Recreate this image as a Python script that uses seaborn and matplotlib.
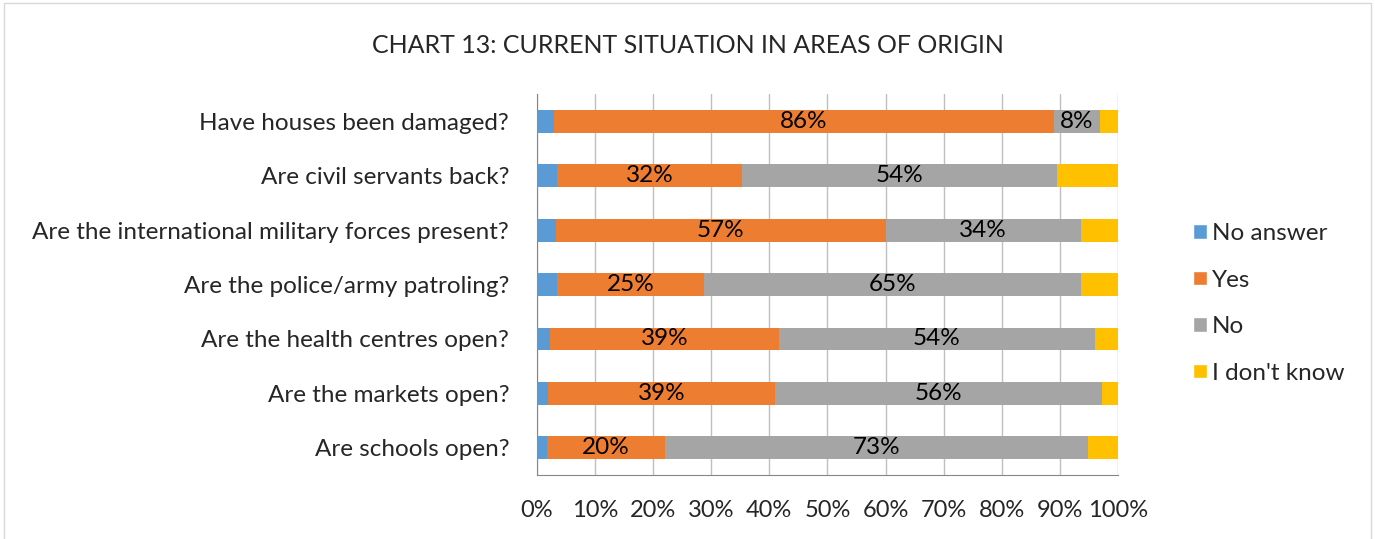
import pandas as pd
import numpy as np
import matplotlib.pyplot as plt
import seaborn as sns
from matplotlib.patches import Patch, Rectangle

# Data (percent of respondents)
questions = ["Have houses been damaged?", "Are civil servants back?",
             "Are the international military forces present?",
             "Are the police/army patroling?", "Are the health centres open?",
             "Are the markets open?", "Are schools open?"]
no_answer = [2.9, 3.5, 3.2, 3.5, 2.3, 1.9, 1.7]
yes = [86.1, 31.8, 56.8, 25.3, 39.4, 39.1, 20.4]
no = [7.9, 54.2, 33.6, 64.8, 54.3, 56.3, 72.7]
dont_know = [3.1, 10.5, 6.4, 6.4, 4.0, 2.7, 5.2]

series = ["No answer", "Yes", "No", "I don't know"]
colors = ["#5B9BD5", "#ED7D31", "#A5A5A5", "#FFC000"]

df = pd.DataFrame({"Question": questions, "No answer": no_answer, "Yes": yes,
                   "No": no, "I don't know": dont_know})
cum = df[series].cumsum(axis=1)

sns.set_style("white")
plt.rcParams['font.family'] = ['Lato', 'DejaVu Sans']

fig = plt.figure(figsize=(13.75, 5.39), dpi=100)
ax = fig.add_axes([0.3905, 0.1187, 0.4226, 0.7069])

# stacked bars: draw cumulative totals from the longest down
for s, c in reversed(list(zip(series, colors))):
    sns.barplot(x=cum[s], y=df["Question"], color=c, orient="h",
                width=0.42, saturation=1, linewidth=0, ax=ax, zorder=3)

# labels for Yes and No segments
for i in range(len(df)):
    for s in ["Yes", "No"]:
        val = df[s][i]
        mid = cum[s][i] - val / 2
        ax.text(mid, i, f"{val:.0f}%", ha="center", va="center",
                fontsize=17.5, color="black", zorder=4)

ax.set_xlim(0, 100)
ax.set_ylim(len(df) - 0.5, -0.5)
ax.set_xticks(np.arange(0, 101, 10))
ax.set_xticklabels([f"{t}%" for t in range(0, 101, 10)], fontsize=17)
ax.set_xlabel("")
ax.set_ylabel("")
ax.tick_params(axis="y", labelsize=17.5, length=0, pad=20)
ax.set_yticks(np.arange(-0.5, len(df), 1), minor=True)
ax.tick_params(axis="y", which="minor", length=6, color="#868686", direction="out")
ax.tick_params(axis="x", length=6, color="#868686", direction="out", pad=12)
ax.grid(axis="x", color="#BFBFBF", linewidth=1, zorder=0)
ax.set_axisbelow(True)
for side in ["top", "right"]:
    ax.spines[side].set_visible(False)
for side in ["left", "bottom"]:
    ax.spines[side].set_color("#868686")

fig.text(0.5, 0.915, "CHART 13: CURRENT SITUATION IN AREAS OF ORIGIN",
         ha="center", va="center", fontsize=18)

handles = [Patch(facecolor=c, label=s) for s, c in zip(series, colors)]
fig.legend(handles=handles, loc="center left", bbox_to_anchor=(0.852, 0.437),
           frameon=False, fontsize=17.5, handlelength=0.55, handleheight=0.55,
           handletextpad=0.2, labelspacing=1.05)

fig.patches.append(Rectangle((0.003, -0.05), 0.994, 1.044, transform=fig.transFigure,
                             fill=False, edgecolor="#D9D9D9", linewidth=1))

fig.savefig("out.png", dpi=100)
